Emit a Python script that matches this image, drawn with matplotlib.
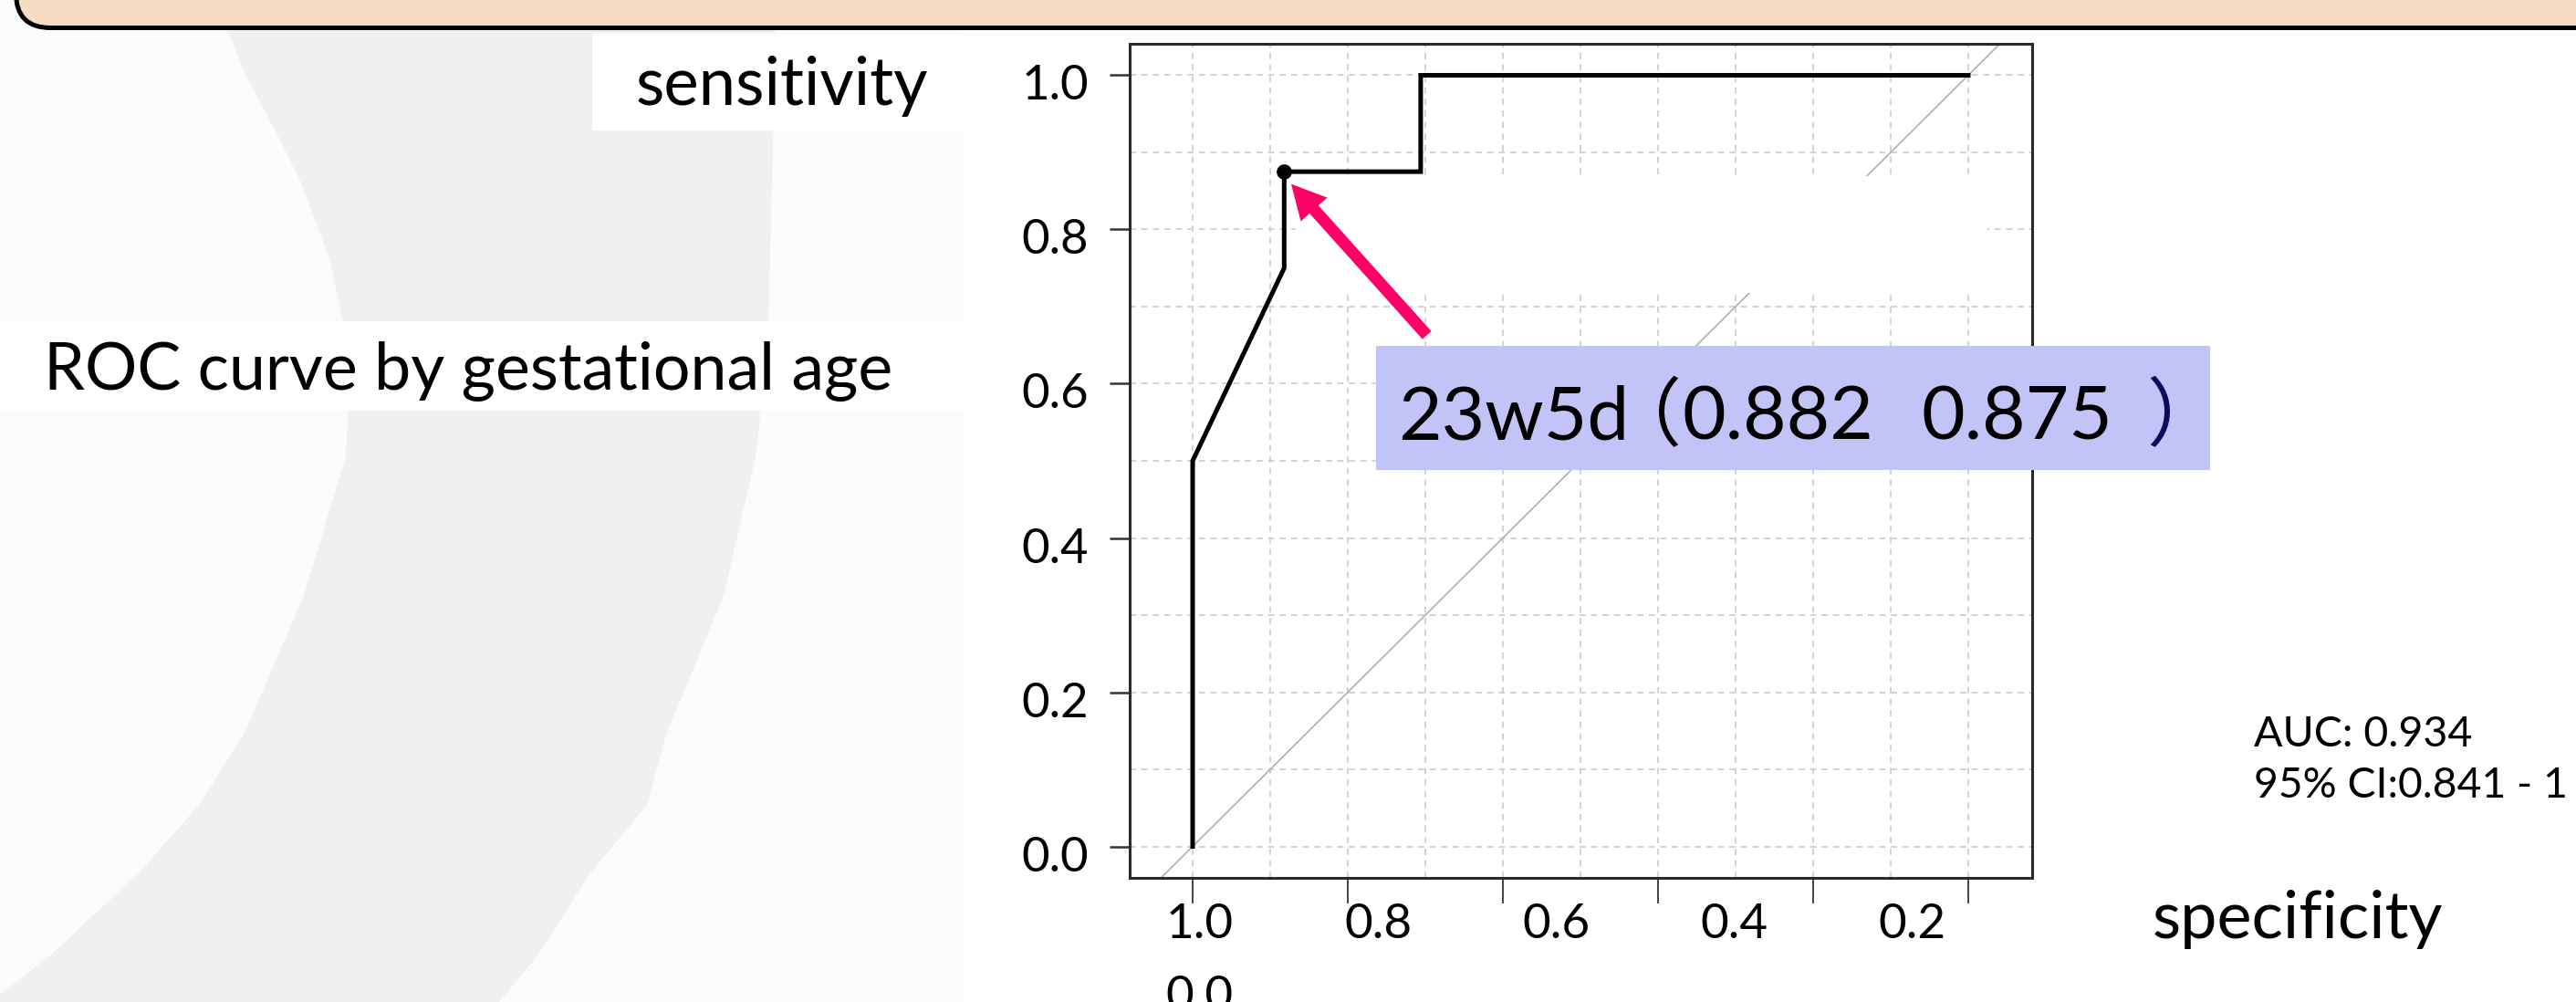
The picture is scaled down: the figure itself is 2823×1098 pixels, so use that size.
import matplotlib.pyplot as plt
import numpy as np
from matplotlib.patches import Rectangle, Polygon, FancyBboxPatch
from matplotlib.transforms import IdentityTransform, ScaledTranslation

# ROC curve by gestational age (pROC style: specificity on reversed x axis)
specificity = [1.0, 1.0, 0.882, 0.882, 0.706, 0.706, 0.0]
sensitivity = [0.0, 0.5, 0.75, 0.875, 0.875, 1.0, 1.0]
best_spec, best_sens = 0.882, 0.875
best_label = '23w5d'
auc_text = 'AUC: 0.934'
ci_text = '95% CI:0.841 - 1'

y_ticks = [0.0, 0.2, 0.4, 0.6, 0.8, 1.0]
y_tick_labels = ['0.0', '0.2', '0.4', '0.6', '0.8', '1.0']
x_ticks = [1.0, 0.8, 0.6, 0.4, 0.2, 0.0]
x_tick_text = ['1.0', '0.8', '0.6', '0.4', '0.2', '0.0']
grid_vals = np.round(np.arange(0, 1.01, 0.1), 1)

W, H = 2823, 1098
FONT = 'Lato'
plt.rcParams['font.family'] = [FONT, 'DejaVu Sans']

fig = plt.figure(figsize=(W / 100, H / 100), dpi=100)
fig.patch.set_facecolor('#FBFBFB')
px = IdentityTransform()


def box(x0, y0, x1, y1, **kw):
    # rectangle given in image pixels (origin top-left)
    r = Rectangle((x0, H - y1), x1 - x0, y1 - y0, transform=px, **kw)
    fig.add_artist(r)
    return r


# slide background: light gray arc on the left
left_edge = [(250, 33), (268, 80), (300, 140), (330, 200), (360, 280), (378, 360),
             (382, 450), (379, 500), (333, 653), (267, 805), (218, 882),
             (151, 958), (56, 1046), (0, 1090), (0, 1098)]
right_edge = [(547, 1098), (590, 1046), (646, 958), (709, 882), (730, 805),
              (793, 653), (828, 500), (836, 430), (842, 350), (846, 200), (850, 33)]
arc = Polygon([(x, H - y) for x, y in left_edge + right_edge], closed=True,
              transform=px, facecolor='#F1F0F0', edgecolor='none', zorder=-10)
fig.add_artist(arc)

# pasted plot image and white text boxes
box(1055, 33, W, H, facecolor='white', edgecolor='none', zorder=-6)
box(649, 36, 1056, 143, facecolor='white', edgecolor='none', zorder=-5)
box(0, 352, 1056, 450, facecolor='white', edgecolor='none', zorder=-5)

# header band with rounded corner
header = FancyBboxPatch((17.5, H - 30.5), W + 200, 300,
                        boxstyle='round,pad=0,rounding_size=38', transform=px,
                        facecolor='#F5DCC2', edgecolor='black', linewidth=3.6,
                        zorder=-3)
fig.add_artist(header)

# ROC axes
ax = fig.add_axes([1238 / W, (H - 962) / H, (2227 - 1238) / W, (962 - 48) / H])
ax.set_zorder(0)
ax.set_facecolor('white')
ax.set_xlim(1.0812, -0.0824)
ax.set_ylim(-0.0408, 1.0408)

for g in grid_vals:
    ax.axvline(g, color='#D2D2D2', lw=1.4, ls=(0, (3.5, 3)), zorder=1)
    ax.axhline(g, color='#D2D2D2', lw=1.4, ls=(0, (3.5, 3)), zorder=1)

ax.axline((1, 0), (0, 1), color='#B4B4B4', lw=1.3, zorder=2)

# white patch left over on the slide, hiding part of the grid
ax.add_patch(Rectangle((-0.025, 0.718), 0.892, 0.151, facecolor='white',
                       edgecolor='none', zorder=3))

ax.plot(specificity, sensitivity, color='black', lw=3.6,
        solid_joinstyle='miter', zorder=4)
ax.plot([best_spec], [best_sens], 'o', color='black', ms=11, zorder=5)

ax.annotate('', xy=(0.873, 0.859), xytext=(0.698, 0.663),
            arrowprops=dict(width=9.4, headwidth=28, headlength=27,
                            color='#FF0066', shrink=0, lw=0), zorder=6)

for s in ax.spines.values():
    s.set_linewidth(2.2)
    s.set_color('#2A2A2A')

ax.set_yticks(y_ticks)
ax.set_yticklabels(y_tick_labels, fontsize=38)
ax.tick_params(axis='y', length=16, width=1.8, pad=16.5, colors='#333333',
               labelcolor='black')
shift = ScaledTranslation(0, -0.08, fig.dpi_scale_trans)
for lab in ax.get_yticklabels():
    lab.set_transform(lab.get_transform() + shift)

ax.set_xticks(x_ticks)
ax.set_xticklabels([''] * len(x_ticks))
ax.tick_params(axis='x', length=20, width=1.4, colors='#444444')

# annotation box for the cut-off point
box(1508, 379, 2422, 515, facecolor='#C2C4F8', edgecolor='none', zorder=5)

fitted = []


def put(s, x, y, width=None, size=40, color='black', family=None, z=6):
    t = fig.text(x / W, 1 - y / H, s, fontsize=size, color=color,
                 ha='left', va='baseline', zorder=z,
                 family=family if family else [FONT, 'DejaVu Sans'])
    if width:
        fitted.append((t, width, size))
    return t


put('sensitivity', 697, 115, 320)
put('ROC curve by gestational age', 48, 427, 931)
put('specificity', 2359, 1028, 318)
put(auc_text, 2470, 818, 239, size=30)
put(ci_text, 2470, 874, 344, size=30)

xt = [put(s, 1278 + i * 195, 1028) for i, s in enumerate(x_tick_text[:-1])]
xt.append(put(x_tick_text[-1], 1277, 1107))

cjk = ['Noto Sans CJK JP', 'DejaVu Sans']
b_name = put(best_label, 1532, 482)
b_open = put('（', 1761, 482, family=cjk)
b_spec = put(f'{best_spec:.3f}', 1843, 482)
b_sens = put(f'{best_sens:.3f}', 2105, 482)
b_close = put('）', 2352, 482, color='#0C0C5C', family=cjk)

r = fig.canvas.get_renderer()
for t, w, s0 in fitted:
    t.set_fontsize(s0 * w / t.get_window_extent(r).width)

# tick text size from '1.0', box text size from '0.875'
w0 = xt[0].get_window_extent(r).width
for t in xt:
    t.set_fontsize(40 * 74 / w0)
w1 = b_sens.get_window_extent(r).width
for t in [b_name, b_open, b_spec, b_sens, b_close]:
    t.set_fontsize(40 * 210 / w1)

fig.savefig('out.png', dpi=100, facecolor=fig.get_facecolor())
